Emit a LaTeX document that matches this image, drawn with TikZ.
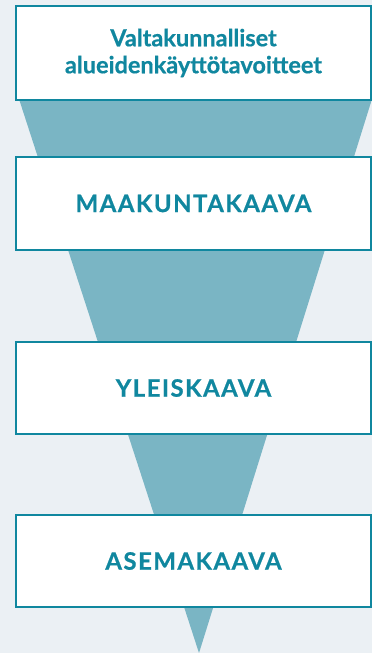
\documentclass[tikz,border=0pt]{standalone}
\usepackage{fontspec}
\setmainfont{Lato}[BoldFeatures={FakeBold=0.6}]
\newfontfamily\capsfont[LetterSpace=6,BoldFeatures={FakeBold=0.6}]{Lato}
\definecolor{bgc}{HTML}{EBF0F4}
\definecolor{funnelc}{HTML}{7AB5C4}
\definecolor{tealc}{HTML}{10879F}
\tikzset{
  planbox/.style={draw=tealc, line width=2pt, fill=white, inner sep=0pt,
    minimum width=355pt, align=center, text=tealc,
    font=\fontsize{23.5}{27}\selectfont\bfseries},
  capsbox/.style={planbox, font=\capsfont\fontsize{24}{27}\selectfont\bfseries},
}
\begin{document}
\begin{tikzpicture}[x=1pt,y=1pt]
\useasboundingbox (0,0) rectangle (372,-653);
\fill[bgc] (0,0) rectangle (372,-653);
\begin{scope}
\clip (0,0) rectangle (372,-653);
\fill[funnelc] (19,-99) -- (372,-99) -- (199,-653) -- cycle;
\end{scope}
\node[planbox, minimum height=94pt] (vat) at (193.5,-53) {Valtakunnalliset\\alueidenkäyttötavoitteet};
\node[capsbox, minimum height=93pt] (mk) at (193.5,-203.5) {MAAKUNTAKAAVA};
\node[capsbox, minimum height=92pt] (yk) at (193.5,-388) {YLEISKAAVA};
\node[capsbox, minimum height=92pt] (ak) at (193.5,-561) {ASEMAKAAVA};
\end{tikzpicture}
\end{document}
